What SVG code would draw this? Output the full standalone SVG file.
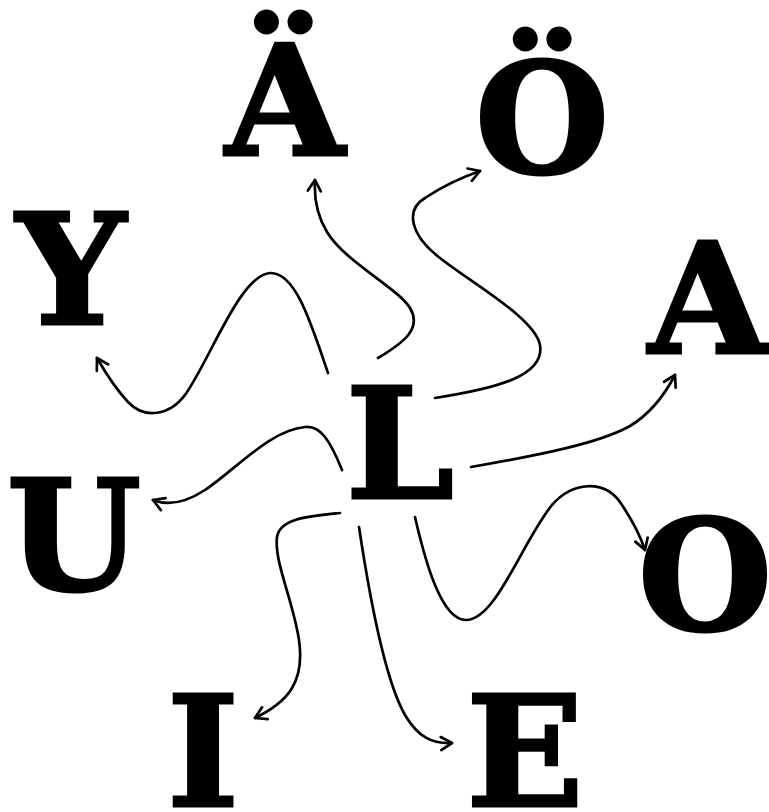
<svg xmlns="http://www.w3.org/2000/svg" width="769" height="812" viewBox="0 0 769 812">
<style>
.lt{font-family:"DejaVu Serif","Liberation Serif",serif;font-weight:bold;font-size:154px;fill:#000;stroke:#000;stroke-width:3;stroke-linejoin:miter;text-anchor:middle}
.c{fill:none;stroke:#000;stroke-width:2.7;stroke-linecap:round}
</style>
<defs>
<marker id="ah" markerUnits="userSpaceOnUse" viewBox="-14 -9 17 18" refX="0" refY="0" markerWidth="17" markerHeight="18" orient="auto">
<path d="M-11,-6.5 L0,0 L-11,6.5" fill="none" stroke="#000" stroke-width="2.7" stroke-linecap="round" stroke-linejoin="round"/>
</marker>
</defs>
<rect width="769" height="812" fill="#fff"/>
<g id="connectors">
<path class="c" marker-end="url(#ah)" d="M378,358 C 405,342 422,328 410,308 C 398,288 345,262 327,232 C 316,214 314,196 315,180"/>
<path class="c" marker-end="url(#ah)" d="M435,398 C 500,388 545,375 540,345 C 535,318 470,282 440,258 C 410,235 405,210 425,198 C 440,188 460,178 480,171"/>
<path class="c" marker-end="url(#ah)" d="M471,467 C 540,455 600,443 630,426 C 650,414 664,396 675,375"/>
<path class="c" marker-end="url(#ah)" d="M415,517 C 426,565 442,620 466,620 C 496,620 522,542 552,505 C 572,482 605,478 622,505 C 632,520 640,535 645,550"/>
<path class="c" marker-end="url(#ah)" d="M359,527 C 370,600 385,680 405,715 C 418,737 432,744 452,743"/>
<path class="c" marker-end="url(#ah)" d="M340,513 C 310,516 280,518 277,537 C 274,562 293,600 299,640 C 305,682 288,702 255,718"/>
<path class="c" marker-end="url(#ah)" d="M342,470 C 330,440 320,425 305,427 C 270,430 235,470 205,490 C 185,503 168,506 153,500"/>
<path class="c" marker-end="url(#ah)" d="M328,373 C 310,320 295,272 270,273 C 240,275 210,360 185,395 C 170,415 145,420 128,402 C 115,388 105,372 97,358"/>
</g>
<g id="node-L"><text class="lt" x="400" y="498">L</text></g>
<g id="node-AE"><text class="lt" x="285" y="155">Ä</text></g>
<g id="node-OE"><text class="lt" x="542" y="173">Ö</text></g>
<g id="node-A"><text class="lt" x="708" y="353">A</text></g>
<g id="node-O"><text class="lt" x="705" y="630">O</text></g>
<g id="node-E"><text class="lt" x="525" y="806">E</text></g>
<g id="node-I"><text class="lt" x="203" y="806">I</text></g>
<g id="node-U"><text class="lt" x="74" y="590">U</text></g>
<g id="node-Y"><text class="lt" x="71" y="324">Y</text></g>
</svg>
